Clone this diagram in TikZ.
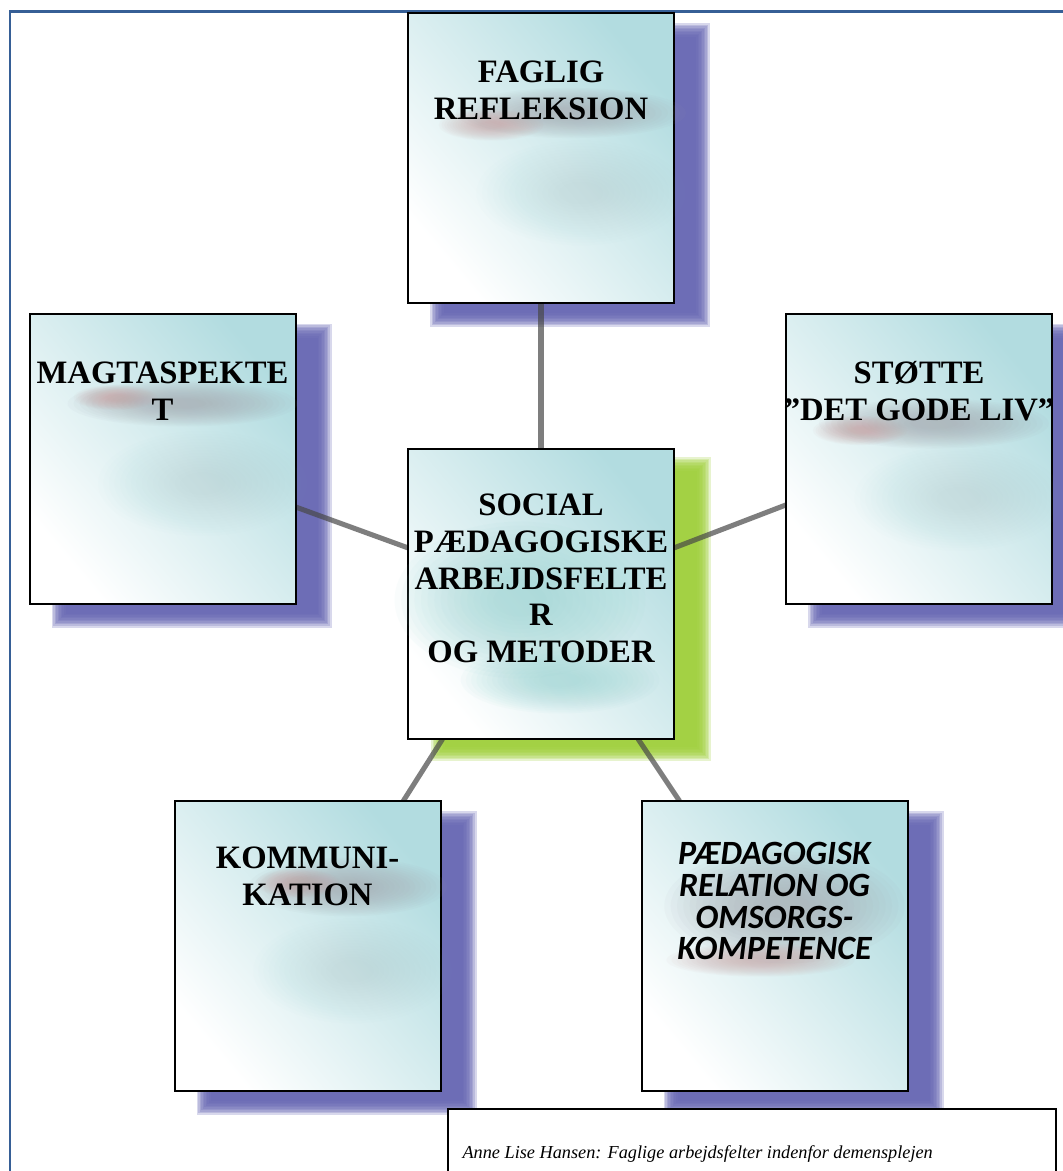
\documentclass[tikz,border=0pt]{standalone}
\usepackage{fontspec}
\setmainfont{Liberation Serif}
\newfontfamily\calibrifont{Carlito}
\usetikzlibrary{calc}

\definecolor{frameblue}{RGB}{54,95,150}
\definecolor{shadowblue}{RGB}{103,103,180}
\definecolor{shadowgreen}{RGB}{160,208,60}
\definecolor{panelteal}{RGB}{178,220,224}
\definecolor{glowgray}{RGB}{160,160,168}
\definecolor{glowpink}{RGB}{200,160,160}
\definecolor{glowteal}{RGB}{150,212,210}
\definecolor{linkgray}{RGB}{72,72,72}

\pgfdeclarelayer{paperlayer}
\pgfdeclarelayer{shadowlayer}
\pgfdeclarelayer{linklayer}
\pgfsetlayers{paperlayer,shadowlayer,linklayer,main}

% soft drop shadow behind a panel: colour, node, x shift, y shift
\newcommand\softshadow[4]{%
  \foreach \k in {0,...,9}{%
    \pgfmathsetmacro\dd{7*(1-\k/4.5)}
    \fill[#1, opacity=0.25]
      ($(#2.north west)+(#3-\dd,#4-\dd)$) rectangle ($(#2.south east)+(#3+\dd,#4+\dd)$);
  }}
% blurred coloured patch: centre, x radius, y radius, colour, layer opacity
\newcommand\softglow[5]{%
  \foreach \k in {1,...,16}{%
    \fill[#4, opacity=#5] (#1) ellipse [x radius={#2*(1.1-0.055*\k)}, y radius={#3*(1.1-0.055*\k)}];
  }}

\tikzset{
  x=0.75pt, y=-0.75pt,
  panel/.style={draw=black, line width=1.5pt, fill=white, inner sep=0pt, outer sep=0pt,
    minimum width=199.5pt, minimum height=217.5pt,
    path picture={\shade[top color=panelteal, middle color=panelteal!6, bottom color=white, shading angle=-50]
      (path picture bounding box.south west) rectangle (path picture bounding box.north east);}},
  headline/.style={font=\fontsize{24.5}{27.5}\selectfont\bfseries, align=center, inner sep=0pt, anchor=north},
  sanshead/.style={font=\calibrifont\fontsize{25.5}{23.8}\selectfont\bfseries\itshape, align=center, inner sep=0pt, anchor=north},
  link/.style={draw=linkgray, draw opacity=0.7, line width=3.8pt},
  creditbox/.style={draw=black, line width=1.1pt, fill=white, inner sep=0pt, minimum width=456pt, minimum height=57pt},
}

\begin{document}
\begin{tikzpicture}
\useasboundingbox (0,0) rectangle (1063,1171);
\begin{pgfonlayer}{paperlayer}
  \fill[white] (0,0) rectangle (1063,1171);
  \draw[frameblue, line width=2.2pt] (10,11.5) rectangle (1090,1200);
\end{pgfonlayer}

% panels
\node[panel] (faglig) at (541,158) {};
\softglow{$(faglig.north)+(30,100)$}{110}{24}{glowgray}{0.05}
\softglow{$(faglig.north)+(-50,112)$}{50}{15}{glowpink}{0.05}
\softglow{$(faglig.north)+(40,180)$}{100}{50}{glowteal}{0.015}
\node[headline] (faglig-t) at ($(faglig.north)+(0,48)$) {FAGLIG\\REFLEKSION};

\node[panel] (magt) at (162.5,458.5) {};
\softglow{$(magt.north)+(20,90)$}{110}{22}{glowgray}{0.05}
\softglow{$(magt.north)+(-47,84)$}{40}{12}{glowpink}{0.05}
\softglow{$(magt.north)+(40,170)$}{100}{50}{glowteal}{0.015}
\node[headline] (magt-t) at ($(magt.north)+(0,48)$) {MAGTASPEKTE\\T};

\node[panel] (stotte) at (919,458.5) {};
\softglow{$(stotte.north)+(15,110)$}{110}{24}{glowgray}{0.05}
\softglow{$(stotte.north)+(-59,117)$}{45}{14}{glowpink}{0.05}
\softglow{$(stotte.north)+(40,185)$}{100}{50}{glowteal}{0.015}
\node[headline] (stotte-t) at ($(stotte.north)+(0,48)$) {STØTTE\\”DET GODE LIV”};

\node[panel] (center) at (541,594) {};
\softglow{$(center.north)+(-21,151)$}{120}{75}{glowteal}{0.05}
\softglow{$(center.north)+(19,231)$}{95}{32}{glowteal}{0.05}
\node[headline] (center-t) at ($(center.north)+(0,45)$)
  {SOCIAL\\PÆDAGOGISKE\\ARBEJDSFELTE\\R\\OG METODER};

\node[panel] (komm) at (307.5,946) {};
\softglow{$(komm.north)+(40,86)$}{95}{28}{glowgray}{0.05}
\softglow{$(komm.north)+(-10,82)$}{40}{14}{glowpink}{0.05}
\softglow{$(komm.north)+(45,170)$}{95}{50}{glowteal}{0.015}
\node[headline] (komm-t) at ($(komm.north)+(0,46)$) {KOMMUNI-\\KATION};

\node[panel] (paed) at (774.5,946) {};
\softglow{$(paed.north)+(10,105)$}{115}{55}{glowgray}{0.05}
\softglow{$(paed.north)+(-14,159)$}{90}{16}{glowpink}{0.05}
\node[sanshead] (paed-t) at ($(paed.north)+(0,41)$)
  {PÆDAGOGISK\\RELATION OG\\OMSORGS-\\KOMPETENCE};

% shadows
\begin{pgfonlayer}{shadowlayer}
  \softshadow{shadowblue}{faglig}{29}{17}
  \softshadow{shadowblue}{magt}{29}{17}
  \softshadow{shadowblue}{stotte}{29}{17}
  \softshadow{shadowblue}{komm}{29}{17}
  \softshadow{shadowblue}{paed}{29}{17}
  \softshadow{shadowgreen}{center}{30}{15}
\end{pgfonlayer}

% connectors
\begin{pgfonlayer}{linklayer}
  \draw[link] (faglig.south) -- (center.north);
  \draw[link] ($(magt.north east)!0.667!(magt.south east)$) -- ($(center.north west)!0.341!(center.south west)$);
  \draw[link] ($(center.north east)!0.341!(center.south east)$) -- ($(stotte.north west)!0.66!(stotte.south west)$);
  \draw[link] ($(center.south west)!0.13!(center.south east)$) -- ($(komm.north west)!0.86!(komm.north east)$);
  \draw[link] ($(center.south west)!0.865!(center.south east)$) -- ($(paed.north west)!0.143!(paed.north east)$);
\end{pgfonlayer}

% credit line
\node[creditbox] (credit) at (752,1147) {};
\node[anchor=base west, inner sep=0pt, font=\fontsize{13.7}{16}\selectfont\itshape] (credit-t)
  at ($(credit.north west)+(15,50)$) {Anne Lise Hansen: Faglige arbejdsfelter indenfor demensplejen};
\end{tikzpicture}
\end{document}
